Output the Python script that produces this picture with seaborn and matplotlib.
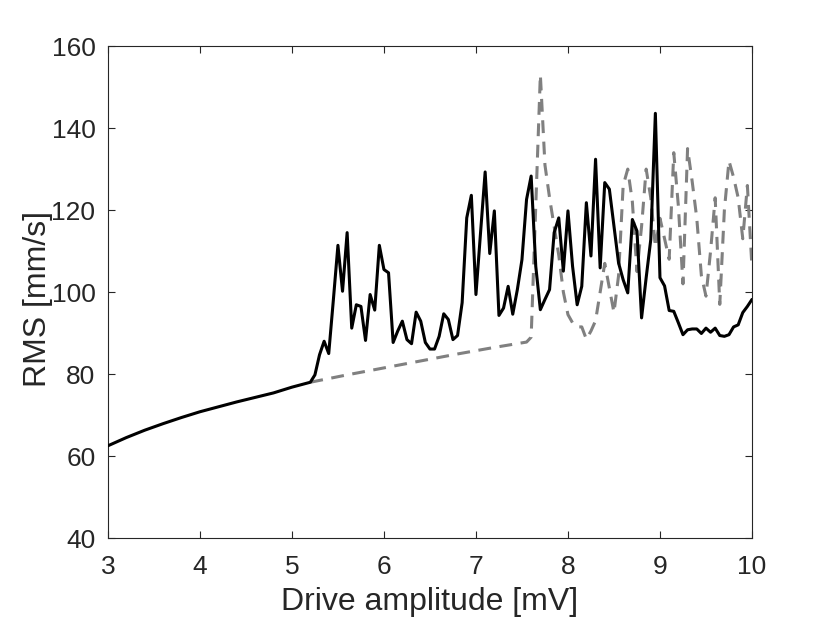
import numpy as np
import pandas as pd
import matplotlib
matplotlib.use("Agg")
import matplotlib.pyplot as plt
import seaborn as sns

# ---- data: sweep up (solid black) ----
up_x_smooth = [3.0, 3.2, 3.4, 3.6, 3.8, 4.0, 4.2, 4.4, 4.6, 4.8, 5.0, 5.1, 5.2]
up_y_smooth = [62.5, 64.5, 66.3, 67.9, 69.4, 70.8, 72.0, 73.2, 74.3, 75.4, 76.8, 77.4, 78.0]
up_x_chaos = list(np.round(np.arange(5.25, 10.001, 0.05), 2))
up_y_chaos = [79.8, 84.7, 88.0, 85.0, 98.0, 111.4, 100.2, 114.5, 91.2, 96.9,
              96.5, 88.2, 99.4, 95.6, 111.4, 105.5, 104.7, 87.7, 90.5, 92.9,
              88.4, 87.4, 95.1, 92.9, 87.7, 86.1, 86.1, 89.2, 94.7, 93.3,
              88.4, 89.4, 97.4, 118.1, 123.6, 99.4, 114.5, 129.3, 109.4, 119.8,
              94.3, 96.1, 101.4, 94.6, 100.6, 107.9, 122.6, 128.3, 106.3, 95.7,
              98.2, 100.6, 114.5, 118.1, 105.1, 119.8, 106.3, 96.9, 101.4, 121.8,
              108.8, 132.4, 105.9, 126.7, 125.1, 116.1, 107.1, 103.0, 99.8, 117.7,
              114.9, 93.7, 103.5, 112.8, 143.6, 103.5, 101.5, 95.5, 95.3, 92.5,
              89.6, 90.8, 91.0, 91.0, 89.9, 91.2, 90.2, 91.2, 89.4, 89.2,
              89.6, 91.5, 92.0, 95.0, 96.5, 98.2]

# ---- data: sweep down (dashed grey) ----
down_x_lin = [5.2, 5.6, 6.0, 6.4, 6.8, 7.2, 7.55]
down_y_lin = [78.0, 79.8, 81.5, 83.2, 84.9, 86.5, 87.8]
down_x_chaos = list(np.round(np.arange(7.6, 10.001, 0.05), 2))
down_y_chaos = [89.0, 121.0, 153.0, 131.0, 123.0, 116.0, 109.0, 100.0, 94.5, 92.5,
                91.5, 91.5, 88.5, 90.5, 93.0, 100.0, 107.0, 101.0, 95.0, 104.0,
                126.0, 130.0, 122.0, 105.0, 116.0, 130.0, 123.0, 111.0, 118.0, 113.0,
                108.0, 134.0, 121.0, 102.0, 135.0, 127.0, 118.0, 104.0, 99.0, 110.0,
                123.0, 97.0, 120.0, 132.0, 128.0, 123.0, 113.0, 126.0, 106.0]

x_ticks = [3, 4, 5, 6, 7, 8, 9, 10]
y_ticks = [40, 60, 80, 100, 120, 140, 160]
x_label = "Drive amplitude [mV]"
y_label = "RMS [mm/s]"

up_df = pd.DataFrame({"x": up_x_smooth + up_x_chaos, "y": up_y_smooth + up_y_chaos})
down_df = pd.DataFrame({"x": down_x_lin + down_x_chaos, "y": down_y_lin + down_y_chaos})

sns.set_theme(style="white")
plt.rcParams["font.family"] = ["Liberation Sans", "DejaVu Sans"]
txt = "#262626"

fig = plt.figure(figsize=(8.3, 6.23), dpi=100)
ax = fig.add_axes([0.130, 0.1364, 0.776, 0.7896])

sns.lineplot(data=down_df, x="x", y="y", ax=ax, sort=False, estimator=None,
             color="#808080", linewidth=2.2, linestyle=(0, (4.2, 2.8)), zorder=2)
sns.lineplot(data=up_df, x="x", y="y", ax=ax, sort=False, estimator=None,
             color="black", linewidth=2.2, zorder=3)

ax.set_xlim(3, 10)
ax.set_ylim(40, 160)
ax.set_xticks(x_ticks)
ax.set_yticks(y_ticks)
ax.set_xticklabels([str(t) for t in x_ticks])
ax.set_yticklabels([str(t) for t in y_ticks])
ax.tick_params(direction="in", length=5, width=0.8, colors=txt, labelsize=19,
               top=True, right=True, bottom=True, left=True)
ax.tick_params(axis="x", pad=12)
ax.tick_params(axis="y", pad=9)
for s in ax.spines.values():
    s.set_visible(True)
    s.set_color(txt)
    s.set_linewidth(0.8)
ax.set_xlabel(x_label, fontsize=23, color=txt, labelpad=6)
ax.set_ylabel(y_label, fontsize=23, color=txt, labelpad=0)
ax.yaxis.set_label_coords(-0.086, 0.485)
ax.grid(False)
ax.set_facecolor("white")
fig.patch.set_facecolor("white")

fig.savefig("out.png", dpi=100, facecolor="white")
